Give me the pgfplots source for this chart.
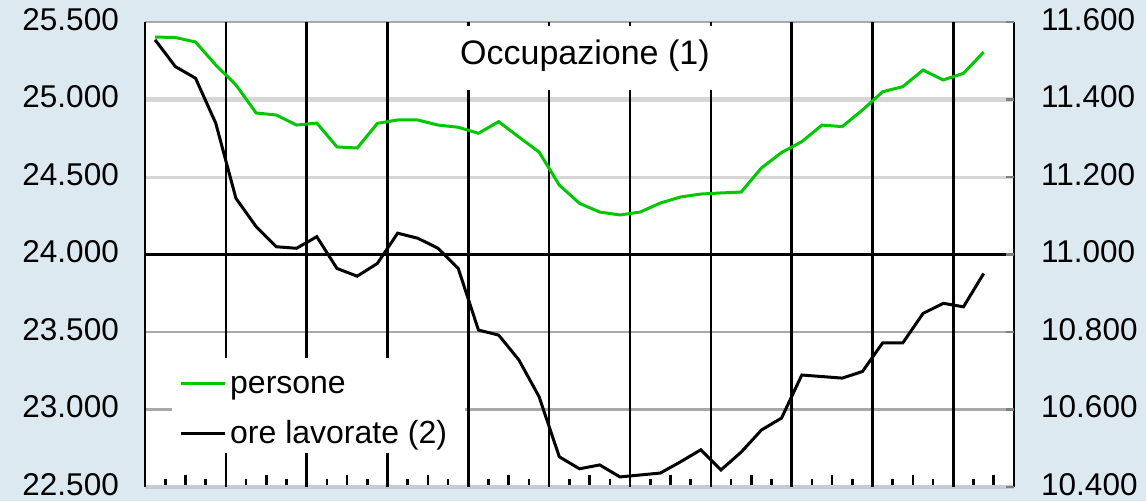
\documentclass[border=0pt]{standalone}
\usepackage{fontspec}
\setmainfont{Liberation Sans}
\usepackage{pgfplots}
\usepackage{pgfplotstable}
\pgfplotsset{compat=1.18}
\definecolor{bgblue}{RGB}{221,233,241}
\definecolor{lgray}{RGB}{214,214,214}
\definecolor{mgray}{RGB}{168,168,168}
\definecolor{dgray}{RGB}{128,128,128}
\definecolor{bgray}{RGB}{196,205,214}
\definecolor{pgreen}{RGB}{0,200,0}
\newcommand{\tfont}{\fontsize{31.5}{38}\selectfont}

% persone (left axis), quarterly, x = quarter index + 0.5
\pgfplotstableread{
x y
0.5 25403
1.5 25400
2.5 25371
3.5 25223
4.5 25094
5.5 24913
6.5 24900
7.5 24835
8.5 24848
9.5 24694
10.5 24687
11.5 24846
12.5 24868
13.5 24868
14.5 24835
15.5 24821
16.5 24782
17.5 24857
18.5 24758
19.5 24661
20.5 24448
21.5 24330
22.5 24274
23.5 24255
24.5 24274
25.5 24332
26.5 24371
27.5 24390
28.5 24397
29.5 24403
30.5 24558
31.5 24658
32.5 24728
33.5 24835
34.5 24825
35.5 24932
36.5 25050
37.5 25083
38.5 25190
39.5 25126
40.5 25169
41.5 25306
}\persone

% ore lavorate (right axis)
\pgfplotstableread{
x y
0.5 11554
1.5 11485
2.5 11455
3.5 11339
4.5 11145
5.5 11072
6.5 11020
7.5 11016
8.5 11046
9.5 10964
10.5 10944
11.5 10977
12.5 11055
13.5 11042
14.5 11016
15.5 10964
16.5 10805
17.5 10792
18.5 10728
19.5 10633
20.5 10478
21.5 10447
22.5 10457
23.5 10426
24.5 10431
25.5 10436
26.5 10465
27.5 10496
28.5 10444
29.5 10490
30.5 10547
31.5 10578
32.5 10689
33.5 10685
34.5 10681
35.5 10698
36.5 10772
37.5 10772
38.5 10848
39.5 10874
40.5 10865
41.5 10951
}\ore

\begin{document}
\begin{tikzpicture}
\fill[bgblue] (-145pt,-14pt) rectangle (1001pt,487pt);
\begin{axis}[
  at={(0pt,0pt)}, anchor=south west,
  scale only axis, width=869pt, height=465pt,
  xmin=0, xmax=43, ymin=22500, ymax=25500,
  clip=false,
  axis line style={draw=none},
  axis background/.style={fill=white},
  xtick={1,3,...,41}, xticklabels={},
  extra x ticks={2,6,...,42}, extra x tick labels={},
  extra x tick style={major tick length=12pt},
  major tick length=8pt,
  xtick pos=left, tick align=inside,
  xtick style={black, line width=2.6pt},
  ytick={22500,23000,23500,24000,24500,25000,25500},
  ytick style={draw=none},
  scaled y ticks=false,
  /pgf/number format/.cd, fixed, 1000 sep={.}, assume math mode=true, /pgfplots/.cd,
  yticklabel style={font=\tfont, anchor=east, inner sep=0pt, xshift=-26pt, yshift=2.5pt},
]
\draw[lgray, line width=5pt] (axis cs:0,25000) -- (axis cs:43,25000);
\draw[lgray, line width=3pt] (axis cs:0,24500) -- (axis cs:43,24500);
\draw[black, line width=2.6pt] (axis cs:0,24000) -- (axis cs:43,24000);
\draw[mgray, line width=2.6pt] (axis cs:0,23500) -- (axis cs:43,23500);
\draw[mgray, line width=2.6pt] (axis cs:0,23000) -- (axis cs:43,23000);
\draw[mgray, line width=2.6pt] (axis cs:0,25500) -- (axis cs:43,25500);
\draw[bgray, line width=4pt] (axis cs:0,22500) -- (axis cs:43,22500);
\pgfplotsinvokeforeach{4,8,12,16,20,24,28,32,36,40}{\draw[black, line width=2.5pt] (axis cs:#1,22500) -- (axis cs:#1,25500);}
\draw[black, line width=2.5pt] (axis cs:0,22500) -- (axis cs:0,25500);
\draw[black, line width=2.5pt] (axis cs:43,22500) -- (axis cs:43,25500);
\fill[white] (axis cs:13.6,25474) rectangle (axis cs:29.9,25061);
\node[font=\fontsize{34}{40}\selectfont, inner sep=0pt] at (axis cs:21.77,25284) {Occupazione (1)};
\fill[white] (axis cs:1.34,23332) rectangle (axis cs:15.85,22719);
\addplot[pgreen, line width=3pt] table {\persone};
\end{axis}
\begin{axis}[
  at={(0pt,0pt)}, anchor=south west,
  scale only axis, width=869pt, height=465pt,
  xmin=0, xmax=43, ymin=10400, ymax=11600,
  hide x axis,
  axis line style={draw=none},
  ytick={10400,10600,10800,11000,11200,11400,11600},
  ytick pos=right, yticklabel pos=right,
  tick align=inside, major tick length=8pt,
  ytick style={dgray, line width=2.6pt},
  scaled y ticks=false,
  /pgf/number format/.cd, fixed, 1000 sep={.}, assume math mode=true, /pgfplots/.cd,
  yticklabel style={font=\tfont, anchor=west, inner sep=0pt, xshift=27pt, yshift=2.5pt},
  legend style={at={(0.0391,0.2559)}, anchor=north west, draw=none, fill=none, font=\fontsize{32}{38}\selectfont,
    nodes={inner sep=0pt, text height=25pt, text depth=6pt}, row sep=19pt, column sep=4pt, inner sep=0pt},
  legend cell align=left,
  legend image code/.code={\draw[#1] (0pt,0pt) -- (44pt,0pt);},
]
\addlegendimage{pgreen, line width=3pt}
\addlegendentry{persone}
\addplot[black, line width=3pt] table {\ore};
\addlegendentry{ore lavorate (2)}
\end{axis}
\end{tikzpicture}
\end{document}
